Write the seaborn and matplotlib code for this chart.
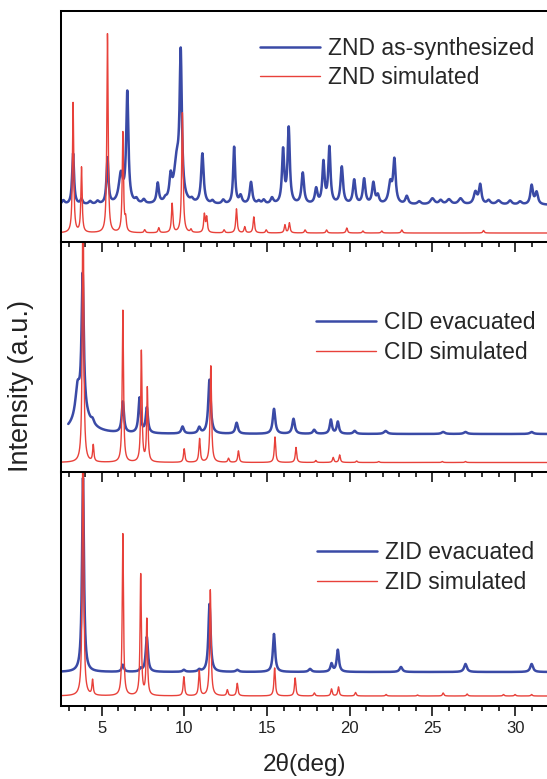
import numpy as np
import pandas as pd
import matplotlib
matplotlib.use("Agg")
import matplotlib.pyplot as plt
from matplotlib.ticker import MultipleLocator
import seaborn as sns

# ---------------------------------------------------------------------------
# Peak tables: (2-theta position, intensity above baseline, half-width)
# ---------------------------------------------------------------------------
two_theta = np.arange(2.54, 31.95, 0.01)

# ZND panel
znd_sim_base = 9.0
znd_sim_peaks = [
    (3.27, 130, 0.045), (3.78, 65, 0.045), (5.35, 199, 0.045), (6.28, 100, 0.045),
    (6.45, 12, 0.05), (7.60, 3, 0.05), (8.45, 5, 0.05), (9.26, 29, 0.05),
    (9.88, 120, 0.05), (10.40, 3, 0.05), (11.21, 18, 0.05), (11.35, 15, 0.05),
    (12.40, 3, 0.05), (13.15, 24, 0.05), (13.65, 6, 0.05), (14.20, 16, 0.05),
    (14.95, 3, 0.05), (16.08, 8, 0.05), (16.35, 10, 0.05), (17.30, 3, 0.05),
    (18.60, 3, 0.05), (19.82, 5, 0.05), (20.80, 2, 0.05), (21.94, 2, 0.05),
    (23.15, 3, 0.05), (28.09, 2.5, 0.05),
]
znd_exp_base = 37.0
znd_exp_peaks = [
    (2.68, 4, 0.1), (3.27, 51, 0.07), (3.78, 5, 0.08), (4.30, 3, 0.1),
    (4.75, 3, 0.1), (5.35, 46, 0.07), (6.16, 29, 0.15), (6.55, 110, 0.08),
    (7.10, 4, 0.1), (7.55, 4, 0.1), (8.39, 20, 0.08), (8.85, 3, 0.1),
    (9.17, 22, 0.09), (9.54, 40, 0.2), (9.78, 140, 0.08), (10.45, 3, 0.1),
    (11.09, 50, 0.09), (11.70, 3, 0.1), (12.35, 4, 0.1), (13.01, 57, 0.07),
    (13.40, 8, 0.1), (14.03, 22, 0.09), (14.50, 3, 0.1), (14.80, 4, 0.1),
    (15.30, 6, 0.1), (15.97, 53, 0.08), (16.31, 75, 0.08), (17.16, 31, 0.09),
    (17.97, 15, 0.09), (18.41, 41, 0.08), (18.77, 56, 0.08), (19.52, 37, 0.09),
    (20.27, 24, 0.09), (20.87, 25, 0.09), (21.43, 21, 0.09), (21.70, 8, 0.09),
    (22.45, 20, 0.12), (22.70, 43, 0.09), (23.45, 8, 0.1), (24.20, 3, 0.12),
    (25.00, 6, 0.15), (25.50, 4, 0.12), (26.00, 5, 0.15), (26.70, 6, 0.15),
    (27.60, 12, 0.12), (27.89, 19, 0.09), (28.40, 4, 0.12), (29.00, 4, 0.15),
    (29.70, 4, 0.12), (30.30, 3, 0.12), (31.00, 19, 0.09), (31.30, 12, 0.1),
]

# CID panel
cid_sim_base = 9.5
cid_sim_peaks = [
    (3.87, 300, 0.045), (4.49, 16.5, 0.045), (6.28, 152, 0.045), (7.40, 111, 0.045),
    (7.76, 74, 0.045), (9.99, 13.5, 0.05), (10.92, 23.5, 0.05), (11.60, 96.5, 0.05),
    (12.67, 4, 0.05), (13.27, 11.5, 0.05), (15.48, 25.5, 0.05), (16.75, 15, 0.05),
    (17.95, 2, 0.05), (19.00, 5, 0.05), (19.39, 7.5, 0.05), (20.42, 1.5, 0.05),
    (21.75, 1, 0.05), (25.60, 1, 0.05), (27.00, 1, 0.05),
]
cid_exp_start = 2.97
cid_exp_base = 38.0
cid_exp_peaks = [
    (3.80, 20, 0.6), (3.54, 28, 0.15), (3.85, 136, 0.08), (4.45, 4, 0.1),
    (6.28, 31, 0.08), (7.29, 35, 0.08), (7.73, 25, 0.08), (9.89, 7, 0.09),
    (10.90, 6, 0.09), (11.52, 54, 0.09), (13.16, 11, 0.09), (15.42, 25, 0.09),
    (16.60, 15, 0.09), (17.85, 4, 0.09), (18.86, 14, 0.08), (19.28, 12, 0.08),
    (20.30, 3, 0.1), (22.17, 3, 0.12), (25.65, 2, 0.12), (27.00, 2, 0.12),
    (31.00, 2, 0.12),
]

# ZID panel
zid_sim_base = 10.0
zid_sim_peaks = [
    (3.87, 300, 0.045), (4.45, 15, 0.045), (6.28, 162, 0.045), (7.36, 121, 0.045),
    (7.73, 76, 0.045), (9.97, 19, 0.05), (10.90, 25, 0.05), (11.57, 106, 0.05),
    (12.60, 6, 0.05), (13.20, 12.5, 0.05), (15.46, 28, 0.05), (16.70, 18, 0.05),
    (17.86, 3, 0.05), (18.90, 7, 0.05), (19.32, 9, 0.05), (20.35, 3.5, 0.05),
    (22.20, 1.5, 0.05), (24.10, 1, 0.05), (25.65, 3, 0.05), (27.10, 2, 0.05),
    (29.30, 1.5, 0.05), (30.00, 1.5, 0.05), (31.00, 1.5, 0.05),
]
zid_exp_base = 34.0
zid_exp_peaks = [
    (3.87, 194, 0.07), (6.28, 7, 0.08), (7.36, 3, 0.08), (7.73, 35, 0.08),
    (9.97, 2, 0.09), (10.90, 2, 0.09), (11.52, 68, 0.08), (13.20, 2, 0.1),
    (15.42, 38, 0.08), (17.60, 3, 0.1), (18.90, 8, 0.08), (19.28, 22, 0.08),
    (23.10, 5, 0.1), (27.00, 8, 0.1), (31.00, 8, 0.1),
]

panel_labels = [
    ("ZND as-synthesized", "ZND simulated"),
    ("CID evacuated", "CID simulated"),
    ("ZID evacuated", "ZID simulated"),
]
x_ticks = [5, 10, 15, 20, 25, 30]


def profile(x, base, peaks):
    """Sum of Lorentzian reflections on a flat baseline."""
    y = np.full_like(x, base, dtype=float)
    for pos, amp, hw in peaks:
        y += amp / (1.0 + ((x - pos) / hw) ** 2)
    return y


def frame(x, base, peaks):
    return pd.DataFrame({"2theta": x, "intensity": profile(x, base, peaks)})


panels = [
    (frame(two_theta, znd_exp_base, znd_exp_peaks),
     frame(two_theta, znd_sim_base, znd_sim_peaks)),
    (frame(two_theta[two_theta >= cid_exp_start], cid_exp_base, cid_exp_peaks),
     frame(two_theta, cid_sim_base, cid_sim_peaks)),
    (frame(two_theta, zid_exp_base, zid_exp_peaks),
     frame(two_theta, zid_sim_base, zid_sim_peaks)),
]

# ---------------------------------------------------------------------------
sns.set_theme(style="ticks")
plt.rcParams["font.family"] = ["Liberation Sans", "DejaVu Sans"]

BLUE = "#3a4aa6"
RED = "#e8413a"

W, H = 547, 779
fig = plt.figure(figsize=(W / 100, H / 100), dpi=100)
heights = [231, 230, 234]
gs = fig.add_gridspec(3, 1, left=61 / W, right=1.0, top=1 - 11 / H,
                      bottom=1 - 706 / H, hspace=0, height_ratios=heights)

legend_anchor = [(0.4095, 0.887), (0.525, 0.698), (0.527, 0.703)]

axes = []
for i, ((exp_df, sim_df), (lab_exp, lab_sim)) in enumerate(zip(panels, panel_labels)):
    ax = fig.add_subplot(gs[i])
    ax.patch.set_alpha(0)
    sns.lineplot(data=exp_df, x="2theta", y="intensity", ax=ax, color=BLUE,
                 lw=1.8, label=lab_exp, estimator=None, sort=False)
    sns.lineplot(data=sim_df, x="2theta", y="intensity", ax=ax, color=RED,
                 lw=1.0, label=lab_sim, estimator=None, sort=False)
    ax.set_xlim(2.54, 31.93)
    ax.set_ylim(0, heights[i])
    ax.set_xlabel("")
    ax.set_ylabel("")
    ax.set_yticks([])
    ax.xaxis.set_major_locator(MultipleLocator(5))
    ax.xaxis.set_minor_locator(MultipleLocator(1))
    ax.set_xticks(x_ticks)
    ax.tick_params(axis="x", which="major", direction="out", length=7.2,
                   width=1.1, color="black", bottom=True, top=False,
                   labelbottom=(i == 2), labelsize=12, pad=3.5, labelcolor="#222222")
    ax.tick_params(axis="x", which="minor", direction="out", length=3.8,
                   width=1.1, color="black", bottom=True, top=False)
    for side in ("left", "top", "bottom"):
        ax.spines[side].set_color("black")
        ax.spines[side].set_linewidth(1.45)
    ax.spines["right"].set_visible(False)
    ax.legend(loc="upper left", bbox_to_anchor=legend_anchor[i], frameon=False,
              fontsize=16.5, handlelength=2.6, handletextpad=0.35,
              labelspacing=0.27, borderpad=0, borderaxespad=0)
    axes.append(ax)

fig.text(20.7 / W, 1 - 386 / H, "Intensity (a.u.)", rotation=90, ha="center",
         va="center", fontsize=19.5, color="#222222")
fig.text(304 / W, 1 - 771 / H, "2θ(deg)", ha="center", va="baseline",
         fontsize=17.5, color="#222222")

fig.savefig("out.png", dpi=100)
